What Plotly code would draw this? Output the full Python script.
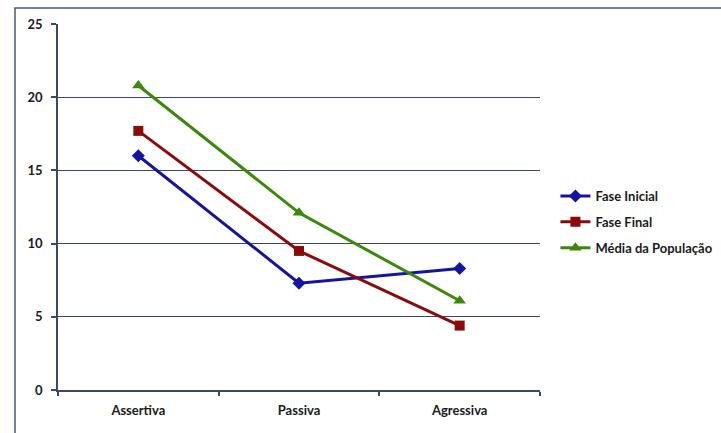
import plotly.graph_objects as go

categories = ["Assertiva", "Passiva", "Agressiva"]
fase_inicial = [16.0, 7.3, 8.3]
fase_final = [17.7, 9.5, 4.4]
media_populacao = [20.8, 12.1, 6.1]
y_ticks = [0, 5, 10, 15, 20, 25]

FAMILY = "Lato, Carlito, Calibri, sans-serif"
FONT = dict(family=FAMILY, size=13, color="#1a1a1a", weight="bold")
AXIS_COLOR = "#3d4768"

series = [
    ("Fase Inicial", fase_inicial, "#1414a0", "diamond", 10),
    ("Fase Final", fase_final, "#8c0a0a", "square", 10),
    ("Média da População", media_populacao, "#3a8a0a", "triangle-up", 11),
]

fig = go.Figure()
for i, (name, vals, color, sym, size) in enumerate(series):
    fig.add_trace(go.Scatter(
        x=categories, y=vals, name=name, mode="lines+markers",
        line=dict(color=color, width=3),
        marker=dict(symbol=sym, size=size, color=color),
        legendgroup=f"g{i}",
    ))

fig.update_layout(
    width=721, height=433,
    margin=dict(l=58, r=181, t=24, b=43, autoexpand=False),
    paper_bgcolor="white", plot_bgcolor="white",
    font=FONT,
    showlegend=True,
    legend=dict(x=1.032, y=0.459, xanchor="left", yanchor="middle",
                traceorder="grouped", tracegroupgap=6,
                font=dict(family=FAMILY, size=13, color="#1a1a1a", weight="bold"),
                bgcolor="rgba(0,0,0,0)", itemwidth=30),
    xaxis=dict(
        type="category", range=[-0.5, 2.5], tickson="boundaries",
        ticks="outside", ticklen=4,
        tickcolor=AXIS_COLOR, tickwidth=1.5,
        showline=True, linecolor=AXIS_COLOR, linewidth=1.5,
        showgrid=False, zeroline=False, ticklabelstandoff=8,
        tickfont=FONT, automargin=False,
    ),
    yaxis=dict(
        range=[0, 25], tickvals=y_ticks, ticks="outside", ticklen=5,
        tickcolor=AXIS_COLOR, tickwidth=1.5,
        showline=True, linecolor=AXIS_COLOR, linewidth=1.5,
        showgrid=True, gridcolor=AXIS_COLOR, gridwidth=1.2,
        zeroline=False, ticklabelstandoff=6, tickfont=FONT, automargin=False,
    ),
    shapes=[dict(type="rect", xref="paper", yref="paper",
                 x0=(15 - 58) / 482, x1=(725 - 58) / 482,
                 y0=(390 - 440) / 366, y1=(390 - 8) / 366,
                 line=dict(color="#4a5578", width=1.5), layer="below")],
)

fig.write_html("out.html", config={"displayModeBar": False},
               post_script="document.body.style.margin='0';document.body.style.overflow='hidden';")
